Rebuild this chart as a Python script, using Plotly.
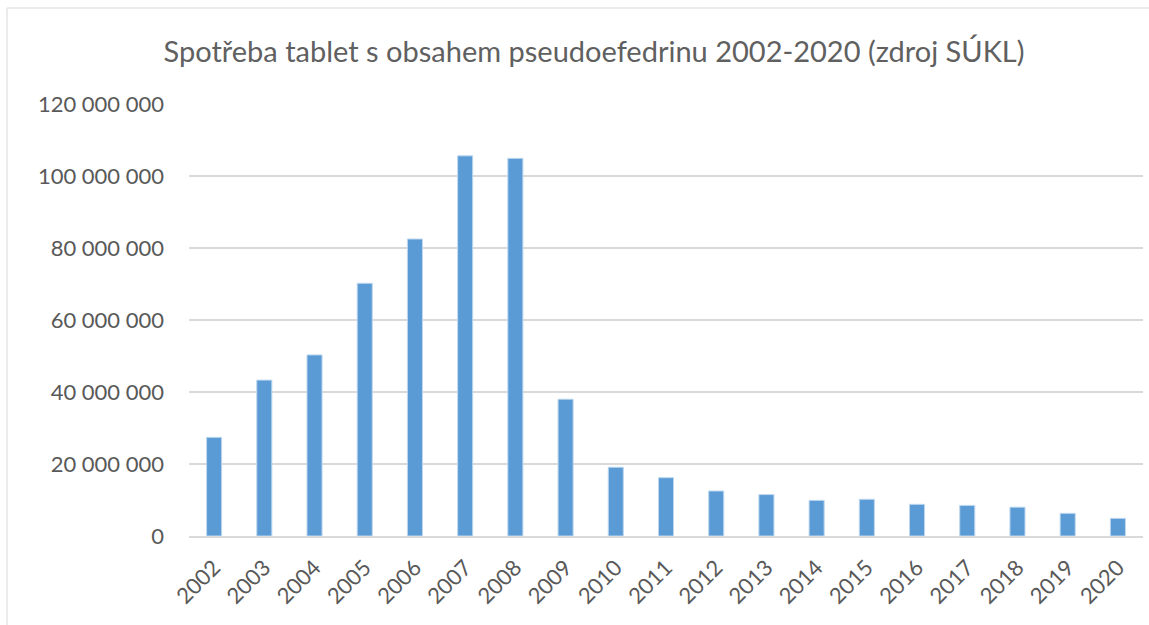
import plotly.graph_objects as go

# Spotřeba tablet s obsahem pseudoefedrinu (SÚKL)
years = [str(y) for y in range(2002, 2021)]
tablets = [
    27.4e6, 43.3e6, 50.3e6, 70.2e6, 82.5e6, 105.6e6, 104.9e6, 38.0e6,
    19.1e6, 16.2e6, 12.5e6, 11.5e6, 9.9e6, 10.2e6, 8.8e6, 8.5e6,
    8.0e6, 6.3e6, 4.9e6,
]
y_ticks = [0, 20e6, 40e6, 60e6, 80e6, 100e6, 120e6]

TEXT = "#595959"
GRID = "#d9d9d9"
FONT = "Lato"

fig = go.Figure()
fig.add_trace(go.Bar(
    x=years, y=tablets,
    marker_color="#5b9bd5",
    marker_line=dict(color="#bdd7ee", width=1),
))

W, H = 1149, 625
L, R, T, B = 189, 6, 104, 89
pw, ph = W - L - R, H - T - B


def px_x(x):
    return (x - L) / pw


def px_y(y):
    return (H - B - y) / ph


# chart frame: only top and left edges are visible in the crop
frame = dict(type="line", xref="paper", yref="paper",
             line=dict(color=GRID, width=1), layer="below")
fig.add_shape(**frame, x0=px_x(7), x1=px_x(W + 5), y0=px_y(8), y1=px_y(8))
fig.add_shape(**frame, x0=px_x(7), x1=px_x(7), y0=px_y(8), y1=px_y(H + 5))

fig.update_layout(
    width=W, height=H,
    margin=dict(l=L, r=R, t=T, b=B),
    paper_bgcolor="white", plot_bgcolor="white",
    title=dict(
        text="Spotřeba tablet s obsahem pseudoefedrinu 2002-2020 (zdroj SÚKL)",
        x=0.517, xanchor="center", y=1 - 52 / H, yanchor="middle",
        font=dict(family=FONT, size=29, color="#606060"),
    ),
    font=dict(family=FONT, color=TEXT, size=22),
    separators=", ",
    bargap=0.7,
    showlegend=False,
    xaxis=dict(
        tickangle=-45, showgrid=False, showline=True,
        linecolor=GRID, linewidth=2, ticks="",
        ticklabelstandoff=8,
        tickfont=dict(size=22, color=TEXT),
    ),
    yaxis=dict(
        range=[0, 120e6], tickvals=y_ticks, tickformat=",d",
        showgrid=True, gridcolor=GRID, gridwidth=1.5,
        zeroline=False, showline=False, ticks="",
        ticklabelstandoff=24,
        tickfont=dict(size=22, color=TEXT),
    ),
)

fig.write_html(
    "out.html",
    config={"displayModeBar": False},
    post_script="document.body.style.margin='0';",
)
